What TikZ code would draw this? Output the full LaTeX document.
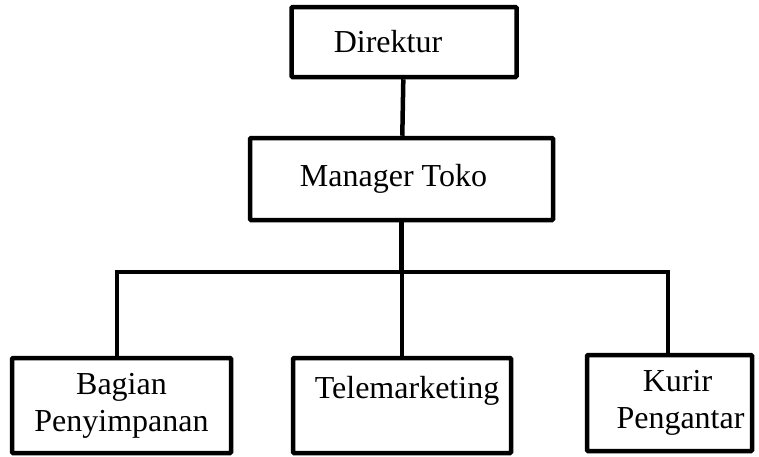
\documentclass[tikz,border=0pt]{standalone}
\usepackage{fontspec}
\setmainfont{Liberation Serif}
\usepackage{tikz}

\begin{document}
\begin{tikzpicture}[x=1pt,y=-1pt,
  box/.style={draw,line width=4.5pt,rounded corners=1pt,align=center,
    inner sep=0pt,font=\fontsize{32}{37}\selectfont},
  link/.style={line width=4.5pt}]
\useasboundingbox (0,0) rectangle (759,456);

\node[box,minimum width=225,minimum height=70] (dir) at (404,42) {Direktur\hspace{32pt}};
\node[box,minimum width=303,minimum height=82] (mgr) at (401.5,179) {Manager Toko\hspace{16pt}};

\node[box,minimum width=219,minimum height=95] (bag) at (121.5,405.5) {Bagian\\Penyimpanan};
\node[box,minimum width=218,minimum height=95] (tel) at (402,405.5) {\hspace{10pt}Telemarketing\\~};
\node[box,minimum width=165,minimum height=96] (kur) at (669.5,403) {\hspace{16pt}Kurir\\\hspace{22pt}Pengantar};

\coordinate (bus) at (0,272);

\draw[link] (dir) -- (mgr);
\draw[link] (mgr.south) -- (mgr.south |- bus);
\draw[link] ([xshift=-4.5]bag.north) |- (bus -| tel.north) -| ([xshift=-1.5]kur.north);
\draw[link] (tel.north) -- (tel.north |- bus);

\end{tikzpicture}
\end{document}
